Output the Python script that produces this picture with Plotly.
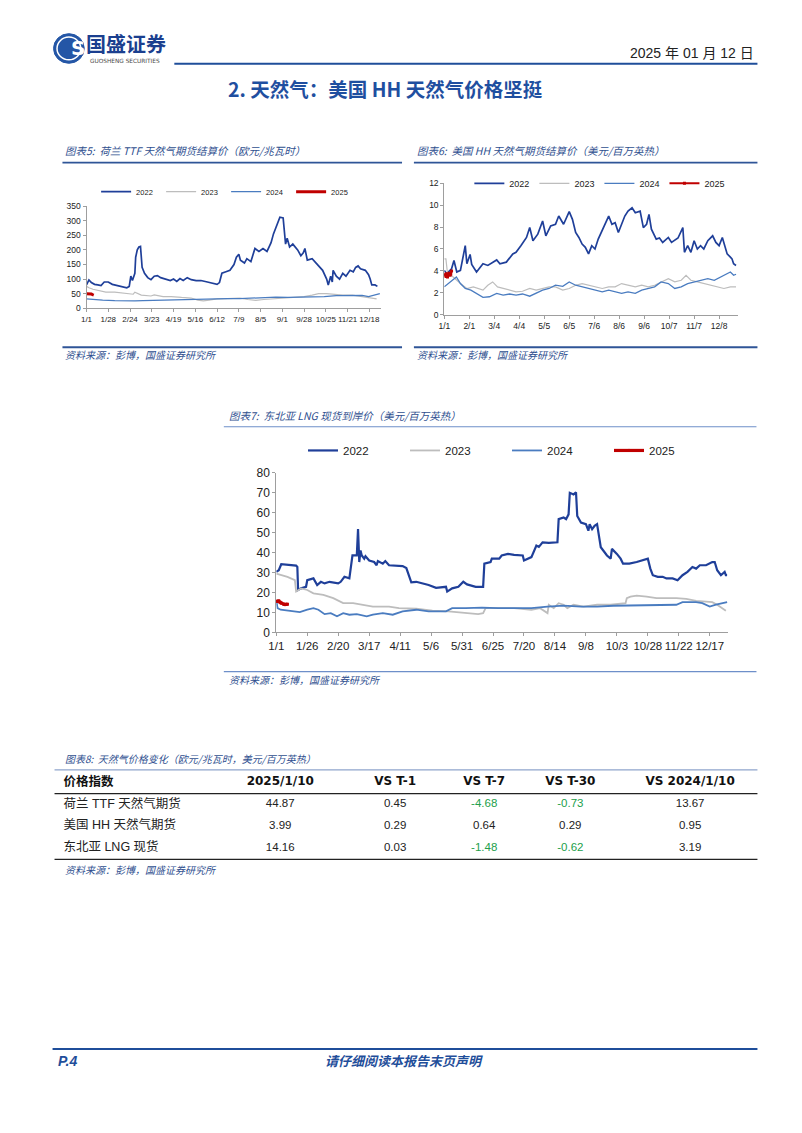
import plotly.graph_objects as go

W, H = 802, 1133
def X(p): return p / W
def Y(p): return 1 - p / H

# ---------------- data ----------------
years = ["2022", "2023", "2024", "2025"]

# Chart 5: TTF (EUR/MWh), x = day of year index
ttf22_d = [0,3,6,10,14,18,22,27,32,38,45,50,53,55,57,60,61,63,65,67,69,72,76,80,84,88,92,98,104,108,112,116,120,125,130,136,142,150,158,162,165,168,173,178,183,186,189,191,196,199,204,209,214,219,224,229,232,235,238,240,244,246,247,249,252,256,262,266,269,271,274,280,287,293,298,300,303,305,306,310,314,318,322,327,331,334,337,340,346,350,352,354,358,361]
ttf22_v = [80,97,88,82,80,78,90,90,82,78,75,70,75,110,95,120,175,200,210,212,140,120,105,98,110,112,105,100,95,100,92,102,95,105,98,95,95,90,85,82,88,120,125,130,150,175,185,165,155,170,160,205,195,205,195,225,255,275,300,312,310,250,220,240,210,220,200,180,190,205,165,170,150,130,100,80,110,90,130,110,100,120,110,130,125,140,145,135,130,115,100,80,80,75]
ttf23_d = [0,3,8,15,24,35,48,58,60,68,80,84,95,105,118,130,138,145,152,162,175,190,200,210,220,232,245,258,270,280,288,298,308,318,330,342,352,360]
ttf23_v = [75,70,65,60,55,55,50,48,55,45,42,46,40,40,37,35,28,25,28,32,33,35,30,27,30,32,35,38,40,45,50,50,47,45,45,40,35,32]
ttf24_d = [0,10,20,35,50,60,70,85,100,115,130,145,160,175,190,205,220,235,250,265,280,295,310,325,335,342,350,357,364]
ttf24_v = [32,29,28,26,24,25,26,27,28,30,31,33,34,33,33,35,36,38,37,38,38,40,43,44,46,44,40,45,50]
ttf25_d = [0,1,2,3,6,7,8,9]
ttf25_v = [50,50,49,48,49,47,44.4,44.9]
ttf_ticks_d = [0,27,54,81,108,135,162,189,216,243,270,297,324,351]
ttf_ticks_t = ["1/1","1/28","2/24","3/23","4/19","5/16","6/12","7/9","8/5","9/1","9/28","10/25","11/21","12/18"]

# Chart 6: HH (USD/MMBtu)
hh22_d = [0,3,9,12,15.5,20,26,28,32,34,40,48,54,60,65,69,77,85,89,95,102,106,110,116,122,126,132,138,142,148,155,159,163,167,171,175,179,183,187,191,198,204,208,212,216,220,224,228,233,237,243,247,251,254,257,263,267,271,278,282,290,296,298,302,306,310,314,318,322,327,333,337,341,345,348,351,355,357,359,362]
hh22_v = [4.05,3.75,4.2,4.95,3.9,4.05,6.3,4.65,5.5,4.6,3.9,4.65,4.5,4.8,5.0,4.65,4.8,5.55,5.7,6.3,7.05,7.95,6.75,7.35,8.55,7.2,8.1,8.25,9.0,8.25,9.4,8.7,7.5,7.05,6.45,6.15,5.55,6.3,6.0,6.9,7.95,9.0,8.25,8.4,7.5,8.25,9.0,9.45,9.75,9.3,9.45,7.95,8.25,9.15,7.8,6.9,7.0,6.6,7.05,6.6,7.0,7.95,5.7,6.3,5.7,6.75,6.0,6.3,6.0,6.75,7.2,6.6,6.3,7.05,6.3,5.55,5.25,5.1,4.65,4.5]
hh23_d = [0,2,4,11,20,28,36,48,54,60,66,73,81,89,97,106,114,122,130,138,147,155,163,171,179,187,196,204,212,220,228,237,245,253,261,269,278,286,294,300,306,314,322,331,339,347,355,362]
hh23_v = [5.1,5.1,3.75,3.45,2.85,2.4,2.55,2.25,2.7,3.0,2.55,2.4,2.25,2.1,2.15,2.4,2.25,2.4,2.55,2.55,2.25,2.4,2.7,2.85,2.7,2.55,2.4,2.55,2.55,2.85,2.7,2.55,2.7,2.55,2.7,3.0,3.3,3.0,3.15,3.6,3.15,3.0,2.85,2.7,2.55,2.4,2.55,2.55]
hh24_d = [0,5,11,15,20,26,33,40,48,56,65,73,81,89,97,106,114,122,130,138,147,155,163,171,179,187,196,204,212,220,228,237,245,253,261,269,278,286,294,302,310,318,327,335,343,351,355,359,362]
hh24_v = [2.55,2.85,3.2,3.45,2.85,2.4,2.25,1.95,1.6,1.65,1.95,1.8,1.9,1.8,1.9,1.7,1.95,2.25,2.4,2.7,2.6,3.0,2.7,2.55,2.4,2.25,2.1,2.25,2.1,1.95,2.1,1.95,2.25,2.4,2.55,3.0,2.85,2.4,2.55,2.85,3.0,3.15,3.3,3.15,3.45,3.75,3.9,3.6,3.7]
hh25_d = [0,1,2,3,4,5,6,7,8,9]
hh25_v = [3.6,3.7,3.5,3.75,3.45,3.65,3.8,3.6,3.70,3.99]
hh_ticks_d = [0,31,62,93,124,155,186,217,248,279,310,341]
hh_ticks_t = ["1/1","2/1","3/4","4/4","5/5","6/5","7/6","8/6","9/6","10/7","11/7","12/8"]

# Chart 7: NE Asia LNG spot (USD/MMBtu)
lng22_d = [0,2,4,16,17,17.6,20,24,25,30,33,36,39,43,50,52,55,59,61.5,65,66,66.5,67,68,69,71,72,75,79,81,82,86,88,91,102,105,107,109,113,118,123,129,137,138,142,147,151,154,161,167,168,173,174,180,182,187,192,199,200,206,208,210,212,215,220,227,228,232,234,236,237,240,242,243,246,250,252,253,255,257,259,262,264,267,270,271,275,278,280,285,291,300,302,304,308,312,315,320,324,328,332,336,339,342,347,352,354,356,359,362,363,364]
lng22_v = [30.4,31.2,34.2,33.5,32.8,21.3,22.1,22.9,26.2,27.1,23.8,25.4,24.6,25.4,24.6,25.4,27.9,27.1,38.6,38.6,51.8,38.6,35.3,41.1,38.6,37.0,38.2,36.1,35.3,33.7,35.8,34.5,35.8,33.7,33.3,32.3,28.7,25.1,25.4,24.6,23.8,22.4,22.9,20.5,22.1,22.9,25.4,24.1,22.9,22.9,34.5,35.3,37.0,37.0,38.6,39.4,38.9,38.6,36.1,37.8,40.3,43.6,42.9,45.2,44.9,45.2,56.8,57.6,56.8,59.2,70.0,69.2,70.3,58.4,55.1,54.3,51.0,54.3,51.8,53.5,54.3,42.7,41.1,38.6,37.0,41.9,39.4,37.0,34.5,34.5,35.3,37.0,32.0,28.7,27.9,27.9,27.1,27.1,26.2,28.7,30.4,32.8,32.0,33.7,33.7,35.3,35.3,31.2,28.7,30.4,28.7,28.7]
lng23_d = [0,9,15,16,20,25,30,38,46,54,62,70,78,91,99,113,126,139,153,163,167,169,179,192,206,213,219,220,224,228,232,235,240,248,259,270,282,283,286,291,299,307,315,323,331,339,347,352,356,360,363]
lng23_v = [29.5,27.9,26.2,20.5,22.1,21.3,19.6,18.8,17.2,14.7,14.7,13.9,13.0,13.0,12.2,11.9,10.9,10.6,9.7,9.2,9.7,12.2,12.2,12.2,11.4,12.2,9.7,13.9,12.2,14.7,13.9,12.2,13.9,13.0,13.9,13.9,14.7,17.2,18.0,18.5,18.0,17.2,17.2,17.2,16.8,15.8,15.5,15.2,13.9,12.2,10.9]
lng24_d = [0,1,3.5,11,19,25,30,34,39,44,49,54,59,65,73,78,86,94,102,113,123,137,142,153,166,179,192,206,219,232,246,259,272,286,299,312,323,328,339,344,350,355,360,364]
lng24_v = [16.3,12.2,11.4,10.9,10.2,11.4,12.2,11.4,9.2,9.7,8.1,9.7,8.9,9.2,8.1,8.9,9.7,8.9,10.6,11.4,10.6,10.6,12.2,12.2,12.5,12.2,12.2,12.2,13.0,13.5,13.0,13.0,13.4,13.5,13.5,13.5,13.9,15.2,15.2,14.7,13.0,13.9,14.7,15.2]
lng25_d = [0,1,2,3,4,6,7,8,9]
lng25_v = [15.6,15.5,15.8,15.2,14.7,14.2,14.0,14.13,14.16]
lng_ticks_d = [0,25,50,75,100,125,150,175,200,225,250,275,300,325,350]
lng_ticks_t = ["1/1","1/26","2/20","3/17","4/11","5/6","5/31","6/25","7/20","8/14","9/8","10/3","10/28","11/22","12/17"]

# Table 8
tbl_header = ["价格指数", "2025/1/10", "VS T-1", "VS T-7", "VS T-30", "VS 2024/1/10"]
tbl_names = ["荷兰 TTF 天然气期货", "美国 HH 天然气期货", "东北亚 LNG 现货"]
tbl_last = [44.87, 3.99, 14.16]
tbl_t1 = [0.45, 0.29, 0.03]
tbl_t7 = [-4.68, 0.64, -1.48]
tbl_t30 = [-0.73, 0.29, -0.62]
tbl_yoy = [13.67, 0.95, 3.19]

# ---------------- style ----------------
C = {"2022": "#1F3F99", "2023": "#BDBDBD", "2024": "#4A7CC0", "2025": "#C00000"}
BLUE = "#2F5597"
TXTBLUE = "#2F4F8F"
NUM = "Liberation Sans, Noto Sans CJK SC"
CJK = "Noto Sans CJK SC, Liberation Sans"
HDRF = "DejaVu Sans, Noto Sans CJK SC"
GREEN = "#22A04B"
col_widths = [168, 120, 112, 68, 106, 136]   # table column widths (px)

fig = go.Figure()

def add_chart(series, xa, ya, leg, widths, red_markers=False):
    for (yr, d, v), w in zip(series, widths):
        mode = "lines"
        marker = None
        if yr == "2025" and red_markers:
            mode = "lines+markers"
            marker = dict(size=3, color=C[yr], symbol="square")
        fig.add_trace(go.Scatter(
            x=d, y=v, mode=mode, name=yr, line=dict(color=C[yr], width=w),
            marker=marker, xaxis=xa, yaxis=ya, legend=leg, hoverinfo="skip"))

add_chart([("2022", ttf22_d, ttf22_v), ("2023", ttf23_d, ttf23_v),
           ("2024", ttf24_d, ttf24_v), ("2025", ttf25_d, ttf25_v)],
          "x", "y", "legend", [1.7, 1.2, 1.3, 3])
add_chart([("2022", hh22_d, hh22_v), ("2023", hh23_d, hh23_v),
           ("2024", hh24_d, hh24_v), ("2025", hh25_d, hh25_v)],
          "x2", "y2", "legend2", [1.7, 1.2, 1.3, 2], red_markers=True)
add_chart([("2022", lng22_d, lng22_v), ("2023", lng23_d, lng23_v),
           ("2024", lng24_d, lng24_v), ("2025", lng25_d, lng25_v)],
          "x3", "y3", "legend3", [2.2, 1.8, 1.8, 3.2], red_markers=True)

# ---- Table as text marks on a hidden axis pair (columns x rows) ----
starts = [sum(col_widths[:i]) for i in range(len(col_widths))]
centers = [s + w / 2 for s, w in zip(starts, col_widths)]
colx = [9] + centers[1:]
colpos = ["middle right"] + ["middle center"] * 5
num_cols = [tbl_last, tbl_t1, tbl_t7, tbl_t30, tbl_yoy]

# header row
fig.add_trace(go.Scatter(
    x=colx, y=[0.5] * 6, mode="text", text=[f"<b>{h}</b>" for h in tbl_header],
    textposition=colpos, textfont=dict(family=HDRF, size=[12.5] + [12] * 5, color="#111111"),
    xaxis="x4", yaxis="y4", showlegend=False, hoverinfo="skip", cliponaxis=False))
# body rows
bx, by, bt, bp, bs, bc = [], [], [], [], [], []
for r in range(len(tbl_names)):
    bx.append(colx[0]); by.append(r + 1.5); bt.append(tbl_names[r]); bp.append(colpos[0])
    bs.append(12.5); bc.append("#222222")
    for ci, vals in enumerate(num_cols):
        v = vals[r]
        bx.append(colx[ci + 1]); by.append(r + 1.5); bt.append(f"{v:.2f}"); bp.append(colpos[ci + 1])
        bs.append(11.5); bc.append(GREEN if v < 0 else "#222222")
fig.add_trace(go.Scatter(
    x=bx, y=by, mode="text", text=bt, textposition=bp,
    textfont=dict(family=NUM, size=bs, color=bc),
    xaxis="x4", yaxis="y4", showlegend=False, hoverinfo="skip", cliponaxis=False))

def xax(dom, tv, tt, fs, anchor):
    return dict(domain=dom, range=[0, 365], tickvals=tv, ticktext=tt, anchor=anchor, tickangle=0,
                showline=True, linecolor="#9E9E9E", linewidth=1, ticks="outside", ticklen=3,
                tickcolor="#9E9E9E", showgrid=False, zeroline=False,
                tickfont=dict(family=NUM, size=fs, color="#222222"), fixedrange=True)

def yax(dom, rng, dt, fs, anchor):
    return dict(domain=dom, range=rng, dtick=dt, tick0=0, anchor=anchor,
                showline=True, linecolor="#9E9E9E", linewidth=1, ticks="outside", ticklen=3,
                tickcolor="#9E9E9E", showgrid=False, zeroline=False,
                tickfont=dict(family=NUM, size=fs, color="#222222"), fixedrange=True)

def leg(x, y, fs, ew):
    d = dict(orientation="h", x=X(x), y=Y(y), xanchor="left", yanchor="middle",
             font=dict(family=NUM, size=fs, color="#222222"), bgcolor="rgba(0,0,0,0)",
             borderwidth=0, itemwidth=30, tracegroupgap=0, itemclick=False)
    if ew:
        d.update(entrywidth=ew, entrywidthmode="pixels")
    return d

# Shapes: rules
shapes = []
def hline(x0, x1, y, color, w):
    shapes.append(dict(type="line", xref="paper", yref="paper", x0=X(x0), x1=X(x1), y0=Y(y), y1=Y(y),
                       line=dict(color=color, width=w), layer="above"))
hline(168, 757, 57.5, "#1F4E9A", 2)
hline(55, 398, 157.5, BLUE, 1.8)
hline(55, 398, 344.5, BLUE, 1.8)
hline(410, 757, 157.5, BLUE, 1.8)
hline(410, 757, 344.5, BLUE, 1.8)
hline(218, 756, 425, "#6E8FC9", 1.2)
hline(218, 756, 673, "#6E8FC9", 1.2)
hline(47, 757, 772.5, "#8FA5CC", 1.2)
hline(47, 757, 796.5, "#222222", 1.3)
hline(47, 757, 863, "#222222", 1.3)
hline(45, 757, 1055, "#1F4E9A", 2)
# logo circle
shapes.append(dict(type="circle", xref="paper", yref="paper", x0=X(46), x1=X(77), y0=Y(57), y1=Y(27),
                   fillcolor="#2456A6", line=dict(color="#2456A6", width=1)))
shapes.append(dict(type="circle", xref="paper", yref="paper", x0=X(49.5), x1=X(73.5), y0=Y(53.5), y1=Y(30.5),
                   fillcolor="rgba(0,0,0,0)", line=dict(color="white", width=1.5)))

ann = []
def txt(x, y, s, size, color, family=CJK, xanchor="left", yanchor="middle"):
    ann.append(dict(x=X(x), y=Y(y), xref="paper", yref="paper", text=s, showarrow=False,
                    xanchor=xanchor, yanchor=yanchor, font=dict(size=size, color=color, family=family)))

txt(61.5, 42, "<b>S</b>", 20, "white", family="DejaVu Sans")
txt(77, 37, "<b>国盛证券</b>", 20, "#1B3F8F")
txt(81, 54.5, "GUOSHENG SECURITIES", 5.8, "#4A4A4A", family="DejaVu Sans")
txt(756, 47, "2025 年 01 月 12 日", 14, "#222222", family=NUM, xanchor="right")
txt(381, 83, "<b>2. 天然气：美国 HH 天然气价格坚挺</b>", 19.5, "#1F4FA0", xanchor="center")

txt(56, 145, "<i>图表5:  荷兰 TTF 天然气期货结算价（欧元/兆瓦时）</i>", 10.5, TXTBLUE)
txt(411, 145, "<i>图表6:  美国 HH 天然气期货结算价（美元/百万英热）</i>", 10.5, TXTBLUE)
txt(221, 414, "<i>图表7:  东北亚 LNG 现货到岸价（美元/百万英热）</i>", 10.5, TXTBLUE)
txt(56, 761, "<i>图表8:  天然气价格变化（欧元/兆瓦时，美元/百万英热）</i>", 10, TXTBLUE)
for (x, y) in [(56, 352), (411, 352), (221, 681), (56, 873)]:
    txt(x, y, "<i>资料来源：彭博，国盛证券研究所</i>", 10, TXTBLUE)

txt(48, 1067, "<b><i>P.4</i></b>", 14, "#1F4E9A", family=NUM)
txt(400, 1067, "<b><i>请仔细阅读本报告末页声明</i></b>", 13, "#1F4E9A", xanchor="center")

fig.update_layout(
    width=W, height=H, margin=dict(l=0, r=0, t=0, b=0),
    paper_bgcolor="white", plot_bgcolor="white",
    showlegend=True,
    xaxis=xax([X(79.3), X(376.4)], ttf_ticks_d, ttf_ticks_t, 8, "y"),
    yaxis=yax([Y(305), Y(201.7)], [0, 350], 50, 8.5, "x"),
    xaxis2=xax([X(440.7), X(737.8)], hh_ticks_d, hh_ticks_t, 8.5, "y2"),
    yaxis2=yax([Y(311.7), Y(178.3)], [0, 12], 2, 8.5, "x2"),
    xaxis3=xax([X(271), X(727.6)], lng_ticks_d, lng_ticks_t, 11.5, "y3"),
    yaxis3=yax([Y(633.3), Y(471.7)], [0, 80], 10, 12, "x3"),
    xaxis4=dict(domain=[X(47), X(757)], range=[0, sum(col_widths)], visible=False,
                anchor="y4", fixedrange=True),
    yaxis4=dict(domain=[Y(863), Y(774)], range=[4, 0], visible=False,
                anchor="x4", fixedrange=True),
    legend=leg(89, 187, 7.5, 20),
    legend2=leg(466, 178.5, 9, 0),
    legend3=leg(298, 449, 11.5, 57),
    shapes=shapes, annotations=ann,
)

fig.write_html("out.html", config={"displayModeBar": False},
               post_script="document.body.style.margin='0';document.body.style.overflow='hidden';")
